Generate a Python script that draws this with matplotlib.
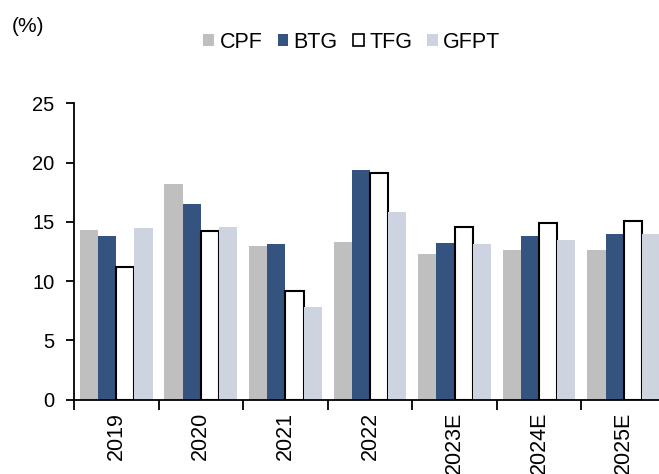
import matplotlib
matplotlib.use("Agg")
import matplotlib.pyplot as plt
from matplotlib.patches import Patch
import numpy as np

plt.rcParams['font.family'] = ['Liberation Sans', 'DejaVu Sans']

years = ["2019", "2020", "2021", "2022", "2023E", "2024E", "2025E"]
companies = ["CPF", "BTG", "TFG", "GFPT"]
cpf = [14.3, 18.2, 13.0, 13.3, 12.3, 12.6, 12.6]
btg = [13.8, 16.5, 13.1, 19.35, 13.25, 13.8, 13.95]
tfg = [11.2, 14.25, 9.15, 19.15, 14.55, 14.9, 15.1]
gfpt = [14.5, 14.6, 7.85, 15.8, 13.1, 13.45, 13.95]

colors = ["#BFBFBF", "#34547F", "white", "#CDD3DF"]
edges = ["none", "none", "black", "none"]

def main():
    fig = plt.figure(figsize=(6.59, 4.74), dpi=100)
    ax = fig.add_axes([0.1123, 0.157, 0.8983, 0.625])

    x = np.arange(len(years))
    w = 0.215
    series = [cpf, btg, tfg, gfpt]
    for i, vals in enumerate(series):
        lw = 1.5 if edges[i] == "black" else 0
        ax.bar(x + (i - 1.5) * w, vals, w, color=colors[i],
               edgecolor=edges[i], linewidth=lw, zorder=2)

    ax.set_xlim(-0.5, len(years) - 0.5)
    ax.set_ylim(0, 25)
    ax.set_yticks([0, 5, 10, 15, 20, 25])
    ax.set_xticks(x)
    ax.set_xticklabels(years, rotation=90, fontsize=15.5)
    ax.set_xticks(np.arange(len(years) + 1) - 0.5, minor=True)
    ax.tick_params(axis='x', which='major', length=0, pad=9)
    ax.tick_params(axis='x', which='minor', length=7, width=1.3, direction='out')
    ax.tick_params(axis='y', length=6, width=1.3, labelsize=14.5, pad=8)

    for s in ["top", "right"]:
        ax.spines[s].set_visible(False)
    for s in ["left", "bottom"]:
        ax.spines[s].set_linewidth(1.3)

    handles = [Patch(facecolor=colors[i], edgecolor=edges[i] if edges[i] != "none" else colors[i],
                     linewidth=1.2 if edges[i] == "black" else 0, label=companies[i])
               for i in range(4)]
    fig.legend(handles=handles, loc='center', bbox_to_anchor=(352 / 659, 1 - 42 / 474),
               ncol=4, frameon=False, fontsize=15.5, handlelength=0.5, handleheight=0.5,
               handletextpad=0.25, columnspacing=0.7, borderpad=0)

    fig.text(12 / 659, 1 - 26 / 474, "(%)", fontsize=15, va='center', ha='left')

    fig.savefig("out.png", dpi=100)

if __name__ == "__main__":
    main()
